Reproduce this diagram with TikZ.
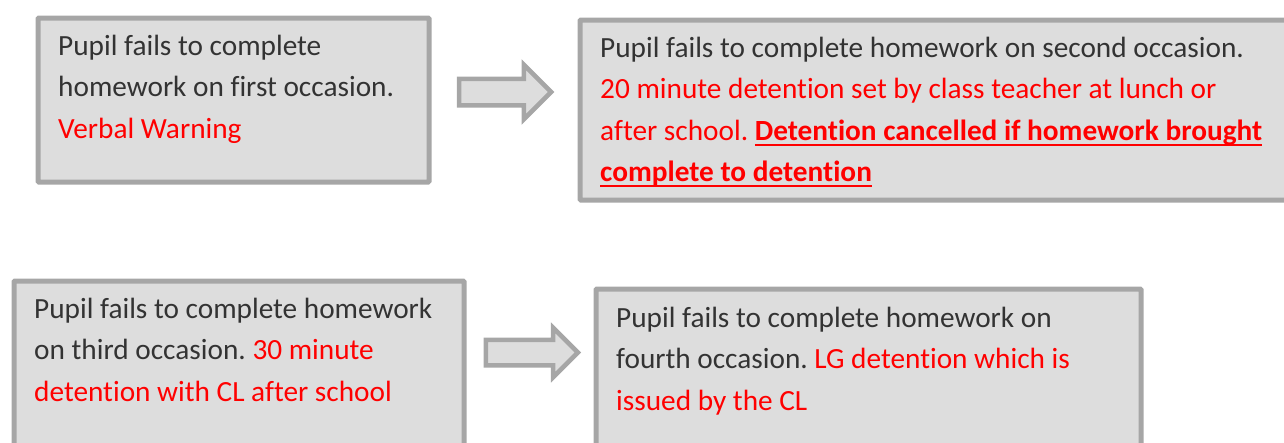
\documentclass[tikz,border=0pt]{standalone}
\usepackage{fontspec}
\setmainfont[Ligatures=NoCommon]{Carlito}
\usepackage{xcolor}
\usetikzlibrary{shapes.arrows}

% underline set at a fixed depth below the baseline
\newcommand{\lineunder}[1]{\setbox0\hbox{#1}\rlap{\rule[-5.5pt]{\wd0}{2pt}}\box0}

\definecolor{boxgray}{HTML}{DDDDDD}
\definecolor{edgegray}{HTML}{A6A6A6}
\definecolor{inkgray}{HTML}{333333}

\begin{document}
\frenchspacing
\begin{tikzpicture}
  [x=1pt,y=-1pt,
   stage/.style={draw=edgegray,fill=boxgray,line width=5pt,rounded corners=1pt,
     inner sep=0pt,anchor=north west},
   words/.style={anchor=north west,inner sep=0pt,align=left,text=inkgray,
     font=\fontsize{29.3}{41.5}\selectfont},
   fatarrow/.style={single arrow,draw=edgegray,fill=boxgray,line width=4.5pt,
     inner sep=11pt,single arrow head extend=14pt,minimum height=92pt}]
  \useasboundingbox (0,0) rectangle (1284,442);

  % the four boxes
  \node[stage,minimum width=391pt,minimum height=164pt] (b1) at (35.5,15.5) {};
  \node[stage,minimum width=720pt,minimum height=180pt] (b2) at (577.5,17.5) {};
  \node[stage,minimum width=450pt,minimum height=180pt] (b3) at (11.5,278.5) {};
  \node[stage,minimum width=545pt,minimum height=180pt] (b4) at (593.5,286.5) {};

  % what each box says
  \node[words] (t1) at (58,26) {\strut Pupil fails to complete\\
    homework on first occasion.\\
    \textcolor{red}{Verbal Warning}};
  \node[words] (t2) at (600,28) {\strut Pupil fails to complete homework on second occasion.\\
    \textcolor{red}{20 minute detention set by class teacher at lunch or}\\
    \textcolor{red}{after school. \textbf{\lineunder{Detention cancelled if homework brought}}}\\
    \textcolor{red}{\textbf{\lineunder{complete to detention}}}};
  \node[words] (t3) at (34,289) {\strut Pupil fails to complete homework\\
    on third occasion. \textcolor{red}{30 minute}\\
    \textcolor{red}{detention with CL after school}};
  \node[words] (t4) at (616,298) {\strut Pupil fails to complete homework on\\
    fourth occasion. \textcolor{red}{LG detention which is}\\
    \textcolor{red}{issued by the CL}};

  % block arrows between the boxes
  \node[fatarrow] (a1) at (498.5,92) {};
  \node[fatarrow,single arrow head extend=12pt,inner sep=10.5pt] (a2) at (525.5,352.5) {};
\end{tikzpicture}
\end{document}
